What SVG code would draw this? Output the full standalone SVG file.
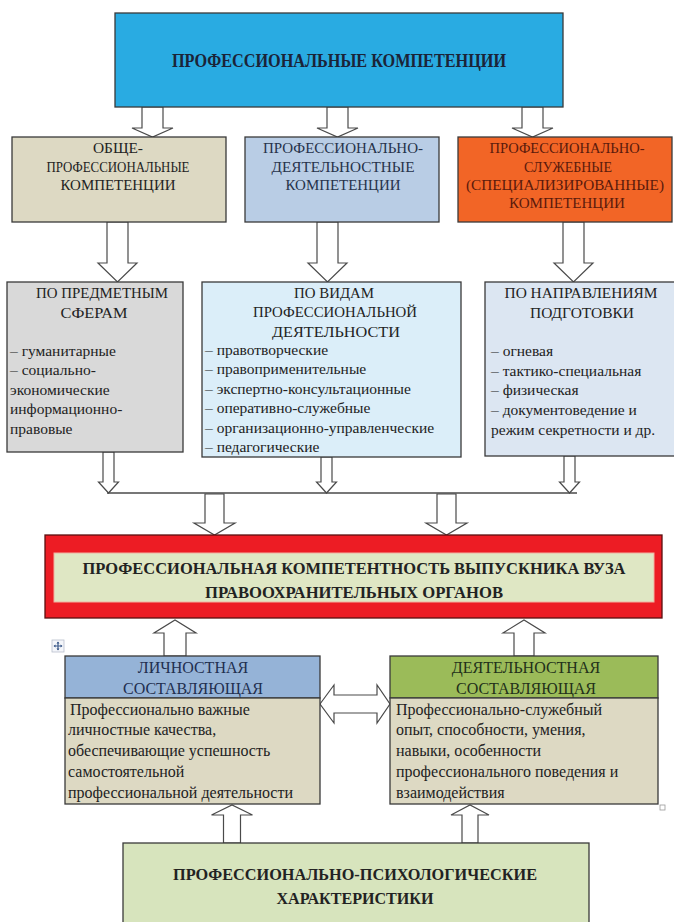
<svg xmlns="http://www.w3.org/2000/svg" width="674" height="922" viewBox="0 0 674 922">
<defs>
<style>
.box{stroke:#3a3a3a;stroke-width:1.3}
.arr{fill:#ffffff;stroke:#4a4a4a;stroke-width:1.2;stroke-linejoin:miter}
.t{font-family:"Liberation Serif","Times New Roman",serif;fill:#222222}
.c{text-anchor:middle}
.b{font-weight:bold}
.h2{font-size:15.5px}
.h3{font-size:15.5px}
.li{font-size:15.5px}
.bd{font-size:16px}
</style>
</defs>
<rect width="674" height="922" fill="#ffffff"/>

<g id="connectors">
  <path class="arr" d="M142,107 L163,107 L163,128 L173,128 L152.5,137 L132,128 L142,128 Z"/>
  <path class="arr" d="M327,107 L348,107 L348,128 L358,128 L337.5,137 L317,128 L327,128 Z"/>
  <path class="arr" d="M522,107 L543,107 L543,128 L553,128 L532.5,137 L512,128 L522,128 Z"/>
  <path class="arr" d="M107,222 L128,222 L128,263 L137,263 L117.5,282 L98,263 L107,263 Z"/>
  <path class="arr" d="M317,222 L338,222 L338,263 L347,263 L327.5,282 L308,263 L317,263 Z"/>
  <path class="arr" d="M563,222 L584,222 L584,263 L593,263 L573.5,282 L554,263 L563,263 Z"/>
  <path class="arr" d="M103,452 L114,452 L114,482 L118.5,482 L108.5,493 L98.5,482 L103,482 Z"/>
  <path class="arr" d="M321,457 L332,457 L332,482 L336.5,482 L326.5,493 L316.5,482 L321,482 Z"/>
  <path class="arr" d="M564,456 L575,456 L575,482 L579.5,482 L569.5,493 L559.5,482 L564,482 Z"/>
  <line x1="107" y1="493" x2="577" y2="493" stroke="#4a4a4a" stroke-width="1.4"/>
  <path class="arr" d="M205,494 L224,494 L224,523 L235,523 L214.5,535 L194,523 L205,523 Z"/>
  <path class="arr" d="M437,494 L456,494 L456,523 L467,523 L446.5,535 L426,523 L437,523 Z"/>
  <path class="arr" d="M164,656 L186,656 L186,633 L196,633 L175,620 L154,633 L164,633 Z"/>
  <path class="arr" d="M514,656 L534,656 L534,633 L545,633 L524,620 L503,633 L514,633 Z"/>
  <path class="arr" d="M320,704 L334,685 L334,695 L377,695 L377,685 L390,704 L377,723 L377,713 L334,713 L334,723 Z"/>
  <path class="arr" d="M223.5,843 L240.5,843 L240.5,815 L252.5,815 L232,805 L211.5,815 L223.5,815 Z"/>
  <path class="arr" d="M462,843 L478,843 L478,815 L489,815 L470,805 L451,815 L462,815 Z"/>
</g>

<g id="n-top">
  <rect class="box" x="115" y="13" width="448" height="94" fill="#29abe2" stroke="#1d3d5c"/>
  <text class="t c b" x="339" y="67" font-size="18" textLength="334" lengthAdjust="spacingAndGlyphs" style="fill:#1b2438">ПРОФЕССИОНАЛЬНЫЕ  КОМПЕТЕНЦИИ</text>
</g>

<g id="n-general">
  <rect class="box" x="12" y="137" width="214" height="85" fill="#ddd9c3"/>
  <text class="t c h2" x="118" y="153" textLength="50" lengthAdjust="spacingAndGlyphs">ОБЩЕ-</text>
  <text class="t c h2" x="118" y="172" textLength="143" lengthAdjust="spacingAndGlyphs">ПРОФЕССИОНАЛЬНЫЕ</text>
  <text class="t c h2" x="118" y="190" textLength="115" lengthAdjust="spacingAndGlyphs">КОМПЕТЕНЦИИ</text>
</g>

<g id="n-activity">
  <rect class="box" x="245" y="137" width="194" height="85" fill="#b9cde5"/>
  <text class="t c h2" x="343" y="153" textLength="160" lengthAdjust="spacingAndGlyphs" style="fill:#26324a">ПРОФЕССИОНАЛЬНО-</text>
  <text class="t c h2" x="343" y="172" textLength="143" lengthAdjust="spacingAndGlyphs" style="fill:#26324a">ДЕЯТЕЛЬНОСТНЫЕ</text>
  <text class="t c h2" x="343" y="190" textLength="115" lengthAdjust="spacingAndGlyphs" style="fill:#26324a">КОМПЕТЕНЦИИ</text>
</g>

<g id="n-service">
  <rect class="box" x="458" y="137" width="214" height="85" fill="#f26526"/>
  <text class="t c h2" x="567" y="153" textLength="155" lengthAdjust="spacingAndGlyphs" style="fill:#5a1a0c">ПРОФЕССИОНАЛЬНО-</text>
  <text class="t c h2" x="568" y="172" textLength="88" lengthAdjust="spacingAndGlyphs" style="fill:#5a1a0c">СЛУЖЕБНЫЕ</text>
  <text class="t c h2" x="565" y="190" textLength="198" lengthAdjust="spacingAndGlyphs" style="fill:#5a1a0c">(СПЕЦИАЛИЗИРОВАННЫЕ)</text>
  <text class="t c h2" x="567" y="208" textLength="116" lengthAdjust="spacingAndGlyphs" style="fill:#5a1a0c">КОМПЕТЕНЦИИ</text>
</g>

<g id="n-subject">
  <rect class="box" x="7" y="282" width="176" height="170" fill="#d9d9d9"/>
  <text class="t c h3" x="102" y="298" textLength="132" lengthAdjust="spacingAndGlyphs">ПО ПРЕДМЕТНЫМ</text>
  <text class="t c h3" x="94" y="318" textLength="67" lengthAdjust="spacingAndGlyphs">СФЕРАМ</text>
  <text class="t li" x="10" y="356">– гуманитарные</text>
  <text class="t li" x="10" y="375">– социально-</text>
  <text class="t li" x="10" y="395">экономические</text>
  <text class="t li" x="10" y="414"> информационно-</text>
  <text class="t li" x="10" y="434">правовые</text>
</g>

<g id="n-kinds">
  <rect class="box" x="202" y="282" width="259" height="175" fill="#dbeef9"/>
  <text class="t c h3" x="334" y="298" textLength="80" lengthAdjust="spacingAndGlyphs">ПО ВИДАМ</text>
  <text class="t c h3" x="335" y="317" textLength="164" lengthAdjust="spacingAndGlyphs">ПРОФЕССИОНАЛЬНОЙ</text>
  <text class="t c h3" x="336" y="337" textLength="128" lengthAdjust="spacingAndGlyphs">ДЕЯТЕЛЬНОСТИ</text>
  <text class="t li" x="205" y="355">– правотворческие</text>
  <text class="t li" x="205" y="374">– правоприменительные</text>
  <text class="t li" x="205" y="394">– экспертно-консультационные</text>
  <text class="t li" x="205" y="413">– оперативно-служебные</text>
  <text class="t li" x="205" y="433">– организационно-управленческие</text>
  <text class="t li" x="205" y="452">– педагогические</text>
</g>

<g id="n-directions">
  <rect class="box" x="485" y="282" width="195" height="174" fill="#dce6f2"/>
  <text class="t c h3" x="581" y="298" textLength="153" lengthAdjust="spacingAndGlyphs">ПО НАПРАВЛЕНИЯМ</text>
  <text class="t c h3" x="582" y="318" textLength="104" lengthAdjust="spacingAndGlyphs">ПОДГОТОВКИ</text>
  <text class="t li" x="491" y="356">– огневая</text>
  <text class="t li" x="491" y="376">– тактико-специальная</text>
  <text class="t li" x="491" y="395">– физическая</text>
  <text class="t li" x="491" y="415">– документоведение и</text>
  <text class="t li" x="491" y="435">режим секретности и др.</text>
</g>

<g id="n-result">
  <rect x="45" y="535" width="617" height="83" fill="#ed1c24" stroke="#5a1010" stroke-width="1.3"/>
  <rect x="54" y="553" width="600" height="49" fill="#dfe7c4" stroke="#f2b0a0" stroke-width="1"/>
  <text class="t c b" x="354" y="574" font-size="16" textLength="543" lengthAdjust="spacingAndGlyphs">ПРОФЕССИОНАЛЬНАЯ  КОМПЕТЕНТНОСТЬ  ВЫПУСКНИКА  ВУЗА</text>
  <text class="t c b" x="354" y="598" font-size="16" textLength="298" lengthAdjust="spacingAndGlyphs">ПРАВООХРАНИТЕЛЬНЫХ  ОРГАНОВ</text>
</g>

<g id="n-personal">
  <rect class="box" x="65" y="656" width="255" height="42" fill="#95b3d7"/>
  <rect class="box" x="65" y="698" width="255" height="106" fill="#ddd9c3"/>
  <text class="t c bd" x="193" y="673" style="fill:#1f2f4f">ЛИЧНОСТНАЯ</text>
  <text class="t c bd" x="193" y="694" style="fill:#1f2f4f">СОСТАВЛЯЮЩАЯ</text>
  <text class="t bd" x="70" y="715"> Профессионально  важные</text>
  <text class="t bd" x="68" y="735">личностные качества,</text>
  <text class="t bd" x="68" y="756">обеспечивающие успешность</text>
  <text class="t bd" x="68" y="777">самостоятельной</text>
  <text class="t bd" x="68" y="798">профессиональной деятельности</text>
</g>

<g id="n-activitycomp">
  <rect class="box" x="390" y="656" width="268" height="42" fill="#9bbb59"/>
  <rect class="box" x="390" y="698" width="268" height="106" fill="#ddd9c3"/>
  <text class="t c bd" x="526" y="673" style="fill:#22301a">ДЕЯТЕЛЬНОСТНАЯ</text>
  <text class="t c bd" x="526" y="694" style="fill:#22301a">СОСТАВЛЯЮЩАЯ</text>
  <text class="t bd" x="396" y="715">Профессионально-служебный</text>
  <text class="t bd" x="396" y="735">опыт, способности, умения,</text>
  <text class="t bd" x="396" y="756">навыки, особенности</text>
  <text class="t bd" x="396" y="777">профессионального поведения и</text>
  <text class="t bd" x="396" y="798">взаимодействия</text>
</g>

<g id="n-psych">
  <rect class="box" x="123" y="843" width="466" height="90" fill="#d7e4bd"/>
  <text class="t c b" x="355" y="880" font-size="16" textLength="364" lengthAdjust="spacingAndGlyphs">ПРОФЕССИОНАЛЬНО-ПСИХОЛОГИЧЕСКИЕ</text>
  <text class="t c b" x="355" y="904" font-size="16" textLength="157" lengthAdjust="spacingAndGlyphs">ХАРАКТЕРИСТИКИ</text>
</g>

<g id="handles">
  <rect x="52" y="640" width="12" height="12" fill="#f4f6fa" stroke="#b8bfcc" stroke-width="0.8"/>
  <path d="M58,642 L58,650 M54,646 L62,646" stroke="#3d5a8a" stroke-width="1.2"/>
  <path d="M58,641.5 L56.5,643.5 L59.5,643.5 Z M58,650.5 L56.5,648.5 L59.5,648.5 Z M53.5,646 L55.5,644.5 L55.5,647.5 Z M62.5,646 L60.5,644.5 L60.5,647.5 Z" fill="#3d5a8a"/>
  <rect x="660" y="805" width="5" height="5" fill="#ffffff" stroke="#9a9a9a" stroke-width="0.8"/>
</g>
</svg>
